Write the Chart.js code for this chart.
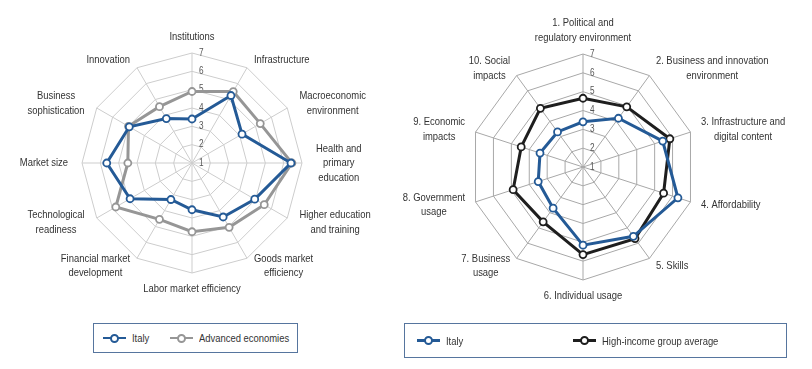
<!DOCTYPE html>
<html><head><meta charset="utf-8">
<script src="https://cdn.jsdelivr.net/npm/chart.js@4.4.1/dist/chart.umd.min.js"></script>
<style>
html,body{margin:0;padding:0;background:#fff}
body{width:812px;height:369px;position:relative;overflow:hidden;font-family:"Liberation Sans",Arial,sans-serif;color:#333}
canvas{position:absolute;top:0}
.legend{position:absolute;border:1.5px solid #56759e;box-sizing:border-box;font-size:11.5px}
.item{position:absolute;top:0;height:100%;display:flex;align-items:center;white-space:nowrap}
.sym{position:relative;width:23px;height:10px;margin-right:6px;flex:none}
.sym .ln{position:absolute;left:0;right:0;top:3.8px;height:2.5px}
.sym .dot{position:absolute;left:7px;top:0.5px;width:5px;height:5px;border-radius:50%;background:#fff;border:2px solid}
.txt{display:inline-block;transform:scaleX(0.82);transform-origin:left center}
</style>
</head><body>
<canvas id="left" width="400" height="320" style="left:0"></canvas>
<canvas id="right" width="422" height="320" style="left:390px"></canvas>

<div class="legend" style="left:93px;top:323px;width:205px;height:30px">
  <div class="item" style="left:9px"><span class="sym"><span class="ln" style="background:#245a96"></span><span class="dot" style="border-color:#245a96"></span></span><span class="txt">Italy</span></div>
  <div class="item" style="left:76px"><span class="sym"><span class="ln" style="background:#969696"></span><span class="dot" style="border-color:#969696"></span></span><span class="txt">Advanced economies</span></div>
</div>
<div class="legend" style="left:404px;top:323px;width:383px;height:35px">
  <div class="item" style="left:12px"><span class="sym"><span class="ln" style="background:#245a96"></span><span class="dot" style="border-color:#245a96"></span></span><span class="txt">Italy</span></div>
  <div class="item" style="left:168px"><span class="sym"><span class="ln" style="background:#1e1e1e"></span><span class="dot" style="border-color:#1e1e1e"></span></span><span class="txt">High-income group average</span></div>
</div>

<script>
// ---- Data ----
const gciCategories = [
  ["Institutions"], ["Infrastructure"], ["Macroeconomic", "environment"],
  ["Health and", "primary", "education"], ["Higher education", "and training"],
  ["Goods market", "efficiency"], ["Labor market efficiency"],
  ["Financial market", "development"], ["Technological", "readiness"],
  ["Market size"], ["Business", "sophistication"], ["Innovation"]
];
const gciItaly    = [3.4, 5.25, 4.15, 6.4, 4.95, 4.4, 3.55, 3.3, 4.9, 5.65, 4.95, 3.8];
const gciAdvanced = [4.9, 5.5, 5.3, 6.45, 5.55, 5.05, 4.75, 4.55, 5.8, 4.5, 5.0, 4.55];

const nriCategories = [
  ["1. Political and", "regulatory environment"], ["2. Business and innovation", "environment"],
  ["3. Infrastructure and", "digital content"], ["4. Affordability"], ["5. Skills"],
  ["6. Individual usage"], ["7. Business", "usage"], ["8. Government", "usage"],
  ["9. Economic", "impacts"], ["10. Social", "impacts"]
];
const nriItaly      = [3.4, 4.2, 5.45, 6.3, 5.55, 5.15, 3.7, 3.5, 3.4, 3.3];
const nriHighIncome = [4.65, 4.95, 5.85, 5.5, 5.7, 5.65, 4.6, 4.9, 4.45, 4.85];

const tickValues = [1, 2, 3, 4, 5, 6, 7];

// ---- Styling ----
const FONT = '"Liberation Sans",Arial,sans-serif';
const SQUEEZE = 0.82;
const BLUE = '#245a96', GRAY = '#969696', BLACK = '#1e1e1e';

function narrowText(ctx, text, x, y) {
  ctx.save();
  ctx.translate(x, y);
  ctx.scale(SQUEEZE, 1);
  ctx.fillText(text, 0, 0);
  ctx.restore();
}

const labelsPlugin = {
  id: 'customLabels',
  beforeDatasetsDraw(chart, args, o) {
    const s = chart.scales.r, ctx = chart.ctx;
    ctx.save();
    ctx.font = '10px ' + FONT;
    ctx.fillStyle = '#555';
    ctx.textAlign = 'left';
    ctx.textBaseline = 'middle';
    tickValues.forEach(v => {
      const d = s.getDistanceFromCenterForValue(v);
      narrowText(ctx, String(v), s.xCenter + o.tickDx, s.yCenter - d);
    });
    ctx.restore();
  },
  afterDraw(chart, args, o) {
    const s = chart.scales.r, ctx = chart.ctx;
    const labels = chart.data.labels, n = labels.length;
    ctx.save();
    ctx.fillStyle = '#333';
    ctx.font = '11.5px ' + FONT;
    ctx.textAlign = 'center';
    ctx.textBaseline = 'middle';
    labels.forEach((lines, i) => {
      const a = 2 * Math.PI * i / n;
      const sin = Math.sin(a), cos = Math.cos(a);
      const x = s.getPointPosition(i, s.drawingArea + o.padX).x;
      const y = s.getPointPosition(i, s.drawingArea + o.padY).y;
      const lh = o.lineHeight;
      const w = SQUEEZE * Math.max(...lines.map(l => ctx.measureText(l).width));
      const h = lines.length * lh;
      let cx, top;
      if (Math.abs(sin) < 0.01) { cx = x; top = cos > 0 ? y - h : y; }
      else { cx = sin > 0 ? x + w / 2 : x - w / 2; top = y - h / 2; }
      lines.forEach((l, k) => narrowText(ctx, l, cx, top + lh * (k + 0.5)));
    });
    ctx.restore();
  }
};

function makeRadar(id, labels, datasets, padding, grid, lbl) {
  new Chart(document.getElementById(id), {
    type: 'radar',
    data: { labels, datasets },
    options: {
      responsive: false, animation: false, devicePixelRatio: 1,
      layout: { padding },
      plugins: { legend: { display: false }, tooltip: { enabled: false }, customLabels: lbl },
      scales: {
        r: {
          min: 1, max: 7,
          ticks: { display: false, stepSize: 1 },
          pointLabels: { display: false },
          grid: { color: grid, lineWidth: 1 },
          angleLines: { color: grid, lineWidth: 1 }
        }
      },
      elements: {
        line: { borderWidth: 3, tension: 0, fill: false },
        point: { radius: 3.5, borderWidth: 1.8, backgroundColor: '#fff', hoverRadius: 3.5 }
      }
    },
    plugins: [labelsPlugin]
  });
}

function ds(label, data, color) {
  return { label, data, borderColor: color, backgroundColor: 'rgba(0,0,0,0)',
           pointBorderColor: color, pointBackgroundColor: '#fff', fill: false };
}

makeRadar('left', gciCategories,
  [ds('Italy', gciItaly, BLUE), ds('Advanced economies', gciAdvanced, GRAY)],
  { left: 82, top: 53, right: 98, bottom: 47 }, '#cdcdcd',
  { padX: 14, padY: 9, lineHeight: 14.5, tickDx: 7 });

makeRadar('right', nriCategories,
  [ds('Italy', nriItaly, BLUE), ds('High-income group average', nriHighIncome, BLACK)],
  { left: 80, top: 54, right: 116, bottom: 40 }, '#a8a8a8',
  { padX: 11, padY: 9, lineHeight: 14.5, tickDx: 7 });
</script>
</body></html>
